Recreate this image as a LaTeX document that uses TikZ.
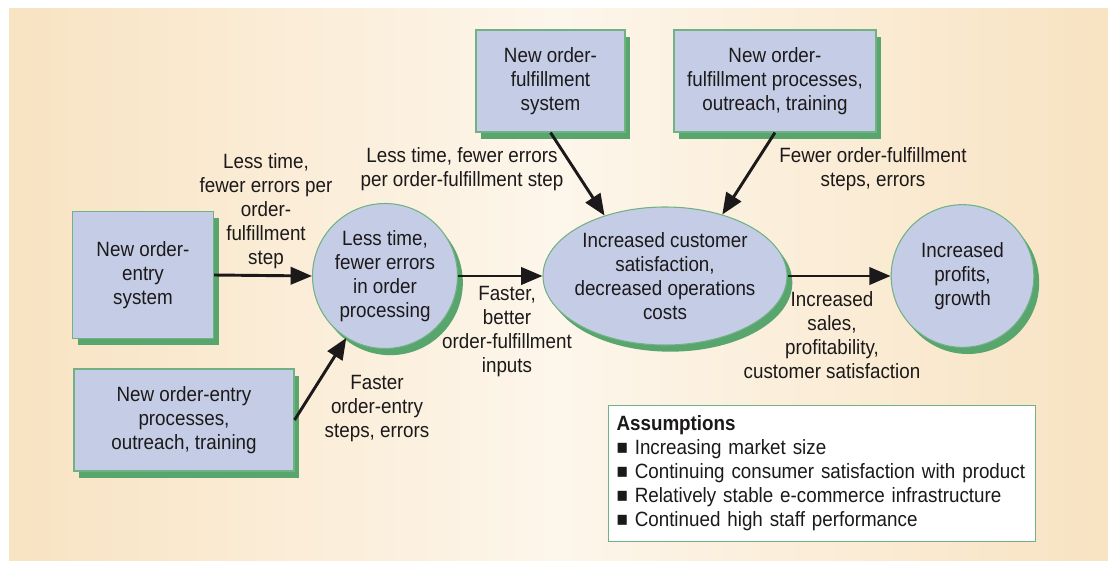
\documentclass[tikz,border=0pt]{standalone}
\usepackage{fontspec}
\setmainfont{Liberation Sans}[FakeStretch=0.91]
\usetikzlibrary{arrows.meta}
\usetikzlibrary{shapes.geometric}
\usetikzlibrary{shadows}
\definecolor{bgdark}{HTML}{F8E3C2}
\definecolor{bglight}{HTML}{FDF6EB}
\definecolor{boxfill}{HTML}{C5CDE6}
\definecolor{boxgreen}{HTML}{58A56E}
\definecolor{inkgray}{HTML}{1C191A}

\begin{document}
\begin{tikzpicture}[x=0.75pt, y=-0.75pt,
    font=\fontsize{15.5}{18}\selectfont, text=inkgray,
    bubble/.style={draw=boxgreen!85, line width=0.8pt, fill=boxfill, align=center, inner sep=1pt,
      drop shadow={shadow xshift=4pt, shadow yshift=-5pt, fill=boxgreen, opacity=1}},
    box/.style={bubble, rectangle},
    disc/.style={bubble, circle, minimum size=107pt},
    lbl/.style={align=center, inner sep=0pt},
    arr/.style={draw=inkgray, line width=2.2pt, -{Triangle[length=16pt, width=13pt]}}]
      \useasboundingbox (0,0) rectangle (1108,561);
      \shade[left color=bgdark, right color=bgdark, middle color=bglight] (9,8) rectangle (1108,561);

      \node[box, minimum width=105.75pt, minimum height=95pt] (entrysys) at (143,275) {New order-\\entry\\system};
      \node[box, minimum width=165pt, minimum height=76.5pt] (entryproc) at (184,420) {New order-entry\\processes,\\outreach, training};
      \node[box, minimum width=111.75pt, minimum height=76.5pt] (fulfilsys) at (550.5,81) {New order-\\fulfillment\\system};
      \node[box, minimum width=151.5pt, minimum height=76.5pt] (fulfilproc) at (775,81) {New order-\\fulfillment processes,\\outreach, training};

      \node[disc, minimum size=108.75pt] (fewerr) at (385,276) {Less time,\\fewer errors\\in order\\processing};
      \node[bubble, ellipse, inner sep=-5pt, minimum width=183pt, minimum height=103.5pt] (satisf) at (665,276) {Increased customer\\satisfaction,\\decreased operations\\costs};
      \node[disc] (profit) at (962.5,276) {Increased\\profits,\\growth};

      \draw[arr] (entrysys.east) -- (fewerr.west);
      \draw[arr] (entryproc.east) -- (fewerr.238);
      \draw[arr] (fewerr.east) -- (satisf.west);
      \draw[arr] (fulfilsys.south) -- (satisf.135);
      \draw[arr] (fulfilproc.south) -- (satisf.47);
      \draw[arr] (satisf.east) -- (profit.west);

      \node[lbl] (lblentrysys) at (266,211) {Less time,\\fewer errors per\\order-\\fulfillment\\step};
      \node[lbl] (lblentryproc) at (377,409) {Faster\\order-entry\\steps, errors};
      \node[lbl] (lblfulfilsys) at (462,169) {Less time, fewer errors\\per order-fulfillment step};
      \node[lbl] (lblfulfilproc) at (873,169) {Fewer order-fulfillment\\steps, errors};
      \node[lbl] (lblfewerr) at (507,332) {Faster,\\better\\order-fulfillment\\inputs};
      \node[lbl] (lblsatisf) at (832,335) {Increased\\sales,\\profitability,\\customer satisfaction};

      \node[draw=boxgreen!85, line width=0.8pt, fill=white, anchor=north west, text width=308pt,
        minimum height=102pt, inner xsep=6pt, align=left] (assume) at (608,405)
        {\textbf{Assumptions}\\
         ■ Increasing market size\\
         ■ Continuing consumer satisfaction with product\\
         ■ Relatively stable e-commerce infrastructure\\
         ■ Continued high staff performance};
      \end{tikzpicture}
\end{document}
